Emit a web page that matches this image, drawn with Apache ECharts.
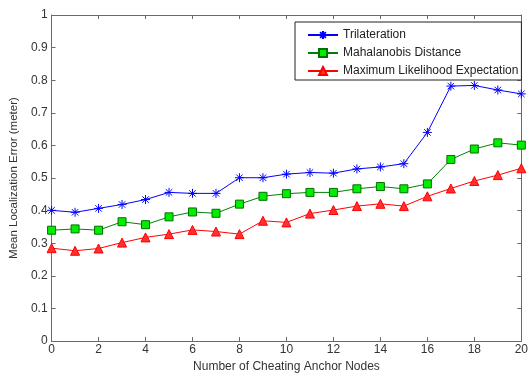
<!DOCTYPE html>
<html>
<head>
<meta charset="utf-8">
<title>Mean Localization Error</title>
<script src="https://cdn.jsdelivr.net/npm/echarts@6/dist/echarts.min.js"></script>
<style>body{margin:0;background:#fff}</style>
</head>
<body>
<div id="main" style="width:531px;height:378px;"></div>
<script type="text/javascript">
// number of cheating anchor nodes
var nodes = [0,1,2,3,4,5,6,7,8,9,10,11,12,13,14,15,16,17,18,19,20];
var trilateration = [0.401,0.395,0.407,0.419,0.434,0.456,0.453,0.453,0.501,0.501,0.512,0.517,0.515,0.528,0.534,0.544,0.640,0.782,0.784,0.770,0.758];
var mahalanobis   = [0.340,0.344,0.340,0.366,0.357,0.381,0.396,0.392,0.420,0.444,0.452,0.456,0.456,0.467,0.474,0.467,0.482,0.557,0.589,0.608,0.601];
var mle           = [0.285,0.277,0.284,0.302,0.318,0.328,0.341,0.336,0.328,0.369,0.364,0.391,0.402,0.414,0.421,0.414,0.444,0.468,0.491,0.509,0.530];

var font = 'Liberation Sans, Arial, sans-serif';
var star = 'path://M0,-5L0,5M-5,0L5,0M-3.6,-3.6L3.6,3.6M-3.6,3.6L3.6,-3.6';

function pairs(arr) {
    return nodes.map(function (x, i) { return [x, arr[i]]; });
}

var myChart = echarts.init(document.getElementById('main'));
var axisLine = {onZero: false, lineStyle: {color: '#6a6a6a', width: 1}};
var axisTick = {inside: true, length: 4, lineStyle: {color: '#6a6a6a'}};
var option = {
    animation: false,
    grid: {left: 51, right: 4, top: 15, bottom: 32},
    legend: {
        left: 295, top: 22, orient: 'vertical',
        itemWidth: 30, itemHeight: 10, itemGap: 6,
        padding: [7, 3, 3, 12],
        borderColor: '#222', borderWidth: 1,
        backgroundColor: '#fff',
        textStyle: {fontFamily: font, fontSize: 12, color: '#222'},
        data: ['Trilateration', 'Mahalanobis Distance', 'Maximum Likelihood Expectation']
    },
    xAxis: [{
        type: 'value', min: 0, max: 20, interval: 2,
        name: 'Number of Cheating Anchor Nodes', nameLocation: 'middle', nameGap: 18,
        nameTextStyle: {fontFamily: font, fontSize: 12, color: '#333'},
        axisLine: axisLine, axisTick: axisTick,
        axisLabel: {fontFamily: font, fontSize: 12, color: '#333', margin: 3},
        splitLine: {show: false}
    }, {
        type: 'value', min: 0, max: 20, interval: 2, position: 'top',
        axisLine: axisLine, axisTick: axisTick,
        axisLabel: {show: false},
        splitLine: {show: false}
    }],
    yAxis: [{
        type: 'value', min: 0, max: 1, interval: 0.1,
        name: 'Mean Localization Error (meter)', nameLocation: 'middle', nameGap: 28,
        nameTextStyle: {fontFamily: font, fontSize: 11.5, color: '#333'},
        axisLine: axisLine, axisTick: axisTick,
        axisLabel: {fontFamily: font, fontSize: 12, color: '#333', margin: 4,
            formatter: function (v) { return v === 0 || v === 1 ? String(v) : v.toFixed(1); }},
        splitLine: {show: false}
    }, {
        type: 'value', min: 0, max: 1, interval: 0.1, position: 'right',
        axisLine: axisLine, axisTick: axisTick,
        axisLabel: {show: false},
        splitLine: {show: false}
    }],
    series: [{
        name: 'Trilateration', type: 'line',
        data: pairs(trilateration),
        symbol: star, symbolSize: 9,
        lineStyle: {color: '#0000ff', width: 1},
        itemStyle: {color: 'rgba(0,0,255,0)', borderColor: '#0000ff', borderWidth: 1}
    }, {
        name: 'Mahalanobis Distance', type: 'line',
        data: pairs(mahalanobis),
        symbol: 'rect', symbolSize: 8,
        lineStyle: {color: '#008000', width: 1},
        itemStyle: {color: '#00ee00', borderColor: '#007000', borderWidth: 1}
    }, {
        name: 'Maximum Likelihood Expectation', type: 'line',
        data: pairs(mle),
        symbol: 'triangle', symbolSize: 9,
        lineStyle: {color: '#ff0000', width: 1},
        itemStyle: {color: '#ff3030', borderColor: '#ff0000', borderWidth: 1}
    }]
};
myChart.setOption(option);
</script>
</body>
</html>
